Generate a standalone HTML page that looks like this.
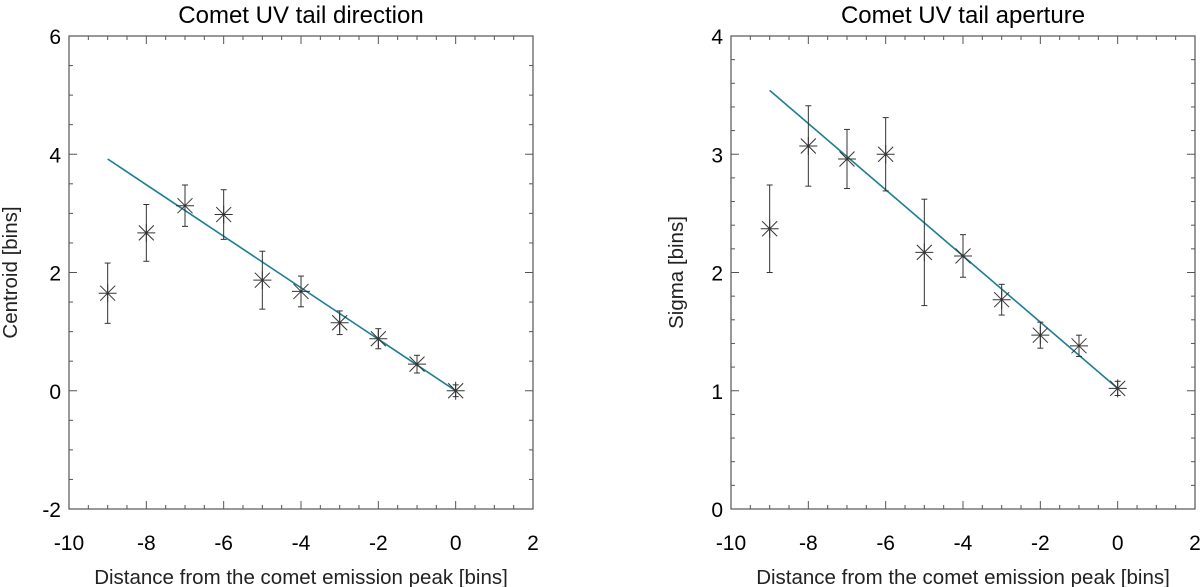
<!DOCTYPE html>
<html><head><meta charset="utf-8"><style>
html,body{margin:0;padding:0;background:#fff;}
svg{display:block;font-family:"Liberation Sans",sans-serif;}
</style></head><body>
<svg id="chart" width="1200" height="587" viewBox="0 0 1200 587"></svg>
<script>
const xCats = [-9,-8,-7,-6,-5,-4,-3,-2,-1,0];
const centroidVals = [1.65,2.67,3.13,2.98,1.87,1.68,1.15,0.88,0.45,0.0];
const centroidErr = [0.51,0.48,0.35,0.42,0.49,0.26,0.2,0.17,0.15,0.1];
const centroidFit = [3.92,0.0];
const sigmaVals = [2.37,3.07,2.96,3.0,2.17,2.14,1.77,1.47,1.38,1.02];
const sigmaErr = [0.37,0.34,0.25,0.31,0.45,0.18,0.13,0.11,0.09,0.06];
const sigmaFit = [3.54,1.02];
const fitX = [-9,0];
const xTicks = [-10,-8,-6,-4,-2,0,2];
const leftYTicks = [-2,0,2,4,6];
const rightYTicks = [0,1,2,3,4];

const NS='http://www.w3.org/2000/svg';
const svg=document.getElementById('chart');
function mk(tag,attrs,parent){const e=document.createElementNS(NS,tag);for(const k in attrs)e.setAttribute(k,attrs[k]);(parent||svg).appendChild(e);return e;}

function panel(cfg){
  const g=mk('g',{});
  
  
  const L=cfg.left,R=cfg.right,T=36,B=509;
  const sx=v=>L+(v-(-10))/(12)*(R-L);
  const sy=v=>B-(v-cfg.ymin)/(cfg.ymax-cfg.ymin)*(B-T);
  const frame=mk('rect',{x:L,y:T,width:R-L,height:B-T,fill:'none',stroke:'#555','stroke-width':1.2},g);
  
  
  for(let v=-10;v<=2.001;v+=0.5){
    const major=Math.abs(v/2-Math.round(v/2))<1e-6;const len=major?8:4;const x=sx(v);
    mk('line',{x1:x,y1:B,x2:x,y2:B-len,stroke:'#555','stroke-width':1},g);
    mk('line',{x1:x,y1:T,x2:x,y2:T+len,stroke:'#555','stroke-width':1},g);
  }
  xTicks.forEach(v=>{const t=mk('text',{x:sx(v),y:550,'text-anchor':'middle','font-size':21,fill:'#000'},g);t.textContent=v;
    });
  for(let v=cfg.ymin;v<=cfg.ymax+1e-6;v+=cfg.minor){
    const major=Math.abs(v-Math.round(v/cfg.majorStep)*cfg.majorStep)<1e-6;const len=major?8:4;const y=sy(v);
    mk('line',{x1:L,y1:y,x2:L+len,y2:y,stroke:'#555','stroke-width':1},g);
    mk('line',{x1:R,y1:y,x2:R-len,y2:y,stroke:'#555','stroke-width':1},g);
  }
  cfg.yTicks.forEach(v=>{const t=mk('text',{x:L-8,y:sy(v)+8,'text-anchor':'end','font-size':21,fill:'#000'},g);t.textContent=v;
    });
  const title=mk('text',{x:(L+R)/2,y:23,'text-anchor':'middle','font-size':24,fill:'#000'},g);title.textContent=cfg.title;
  
  const xt=mk('text',{x:(L+R)/2,y:584,'text-anchor':'middle','font-size':20.5,fill:'#222'},g);xt.textContent='Distance from the comet emission peak [bins]';
  
  const yt=mk('text',{x:0,y:0,'text-anchor':'middle','font-size':20.5,fill:'#222',transform:`translate(${cfg.ytx},${(T+B)/2}) rotate(-90)`},g);yt.textContent=cfg.ytitle;
  
  const fit=mk('line',{x1:sx(fitX[0]),y1:sy(cfg.fit[0]),x2:sx(fitX[1]),y2:sy(cfg.fit[1]),stroke:'#1a7f93','stroke-width':1.6},g);
  
  xCats.forEach((xv,i)=>{
    const x=sx(xv),y=sy(cfg.vals[i]),y1=sy(cfg.vals[i]+cfg.err[i]),y2=sy(cfg.vals[i]-cfg.err[i]);
    const pg=mk('g',{stroke:'#333','stroke-width':1,fill:'none'},g);
    
    mk('line',{x1:x,y1:y1,x2:x,y2:y2},pg);
    mk('line',{x1:x-3,y1:y1,x2:x+3,y2:y1},pg);
    mk('line',{x1:x-3,y1:y2,x2:x+3,y2:y2},pg);
    const r=9;
    mk('line',{x1:x-r,y1:y,x2:x+r,y2:y},pg);
    mk('line',{x1:x-7.5,y1:y-7.5,x2:x+7.5,y2:y+7.5},pg);
    mk('line',{x1:x-7.5,y1:y+7.5,x2:x+7.5,y2:y-7.5},pg);
    mk('line',{x1:x,y1:y-r,x2:x,y2:y+r},pg);
  });
}
panel({name:'centroid-panel',left:69,right:533,ymin:-2,ymax:6,minor:0.5,majorStep:2,yTicks:leftYTicks,vals:centroidVals,err:centroidErr,fit:centroidFit,title:'Comet UV tail direction',ytitle:'Centroid [bins]',ytx:17});
panel({name:'sigma-panel',left:731,right:1195,ymin:0,ymax:4,minor:0.2,majorStep:1,yTicks:rightYTicks,vals:sigmaVals,err:sigmaErr,fit:sigmaFit,title:'Comet UV tail aperture',ytitle:'Sigma [bins]',ytx:683});
</script>
</body></html>
